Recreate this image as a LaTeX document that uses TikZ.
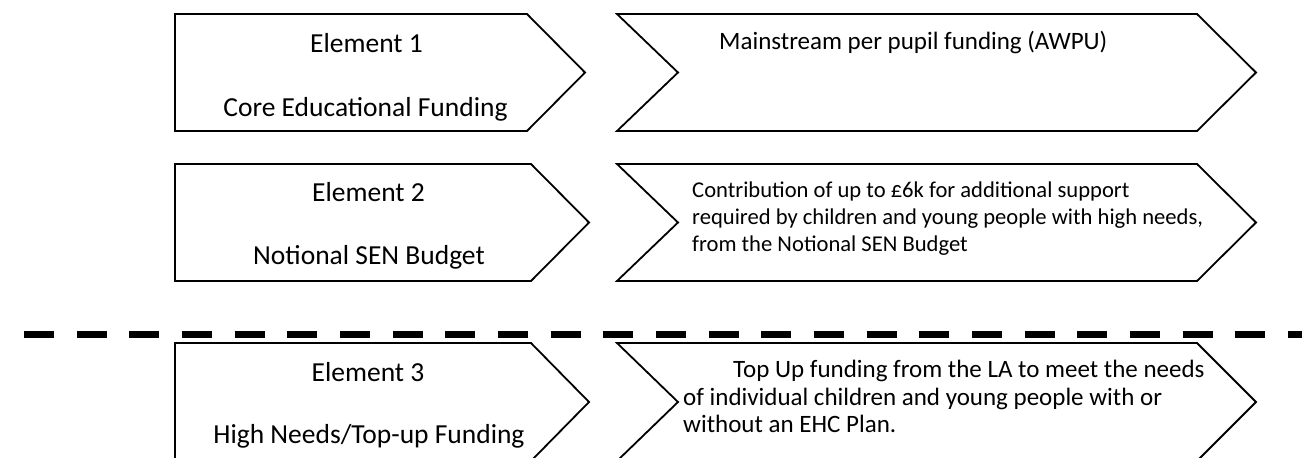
\documentclass[tikz,border=0pt]{standalone}
\usepackage{fontspec}
\setmainfont{Carlito}
\tikzset{
	chev/.style={draw, line width=1.8pt, line join=miter},
	cutline/.style={line width=7pt, dash pattern=on 30pt off 22.66pt},
	elemtext/.style={anchor=base, inner sep=0pt, font=\fontsize{27.5}{33}\selectfont},
	desctext/.style={anchor=base west, inner sep=0pt, align=left}
}
\begin{document}
\begin{tikzpicture}[x=1pt, y=-1pt]
	\useasboundingbox (0,0) rectangle (1302,458);
	\draw[chev] (175,14)--(527,14)--(585,72.5)--(527,131)--(175,131)--cycle;
	\draw[chev] (175,164)--(531,164)--(589,222.5)--(531,281)--(175,281)--cycle;
	\draw[chev] (175,343)--(531,343)--(589,402)--(531,461)--(175,461)--cycle;
	\draw[chev] (617,14)--(1197,14)--(1256,72.5)--(1197,131)--(617,131)--(678,72.5)--cycle;
	\draw[chev] (617,164)--(1197,164)--(1256,222.5)--(1197,281)--(617,281)--(678,222.5)--cycle;
	\draw[chev] (617,343)--(1197,343)--(1256,402)--(1197,461)--(617,461)--(678,402)--cycle;
	\coordinate (cutW) at (24,334);
	\coordinate (cutE) at (1330,334);
	\draw[cutline] (cutW)--(cutE);
	\node[elemtext] (elem1) at (366.5,52) {Element 1};
	\node[elemtext] (core) at (365.5,116.5) {Core Educational Funding};
	\node[elemtext] (elem2) at (368.5,201.7) {Element 2};
	\node[elemtext] (sen) at (369,264.3) {Notional SEN Budget};
	\node[elemtext] (elem3) at (368,381) {Element 3};
	\node[elemtext] (topup) at (369,443.3) {High Needs/Top-up Funding};
	\node[desctext, font=\fontsize{25}{30}\selectfont] (awpu) at (719,49.3) {Mainstream per pupil funding (AWPU)};
	\node[desctext, font=\fontsize{22.6}{27}\selectfont] (contrib) at (692,251.3) {Contribution of up to £6k for additional support\\required by children and young people with high needs,\\from the Notional SEN Budget};
	\node[desctext, font=\fontsize{25}{27.5}\selectfont] (lafund) at (683,432.7) {\hspace*{50pt}Top Up funding from the LA to meet the needs\\of individual children and young people with or\\without an EHC Plan.};
\end{tikzpicture}
\end{document}
